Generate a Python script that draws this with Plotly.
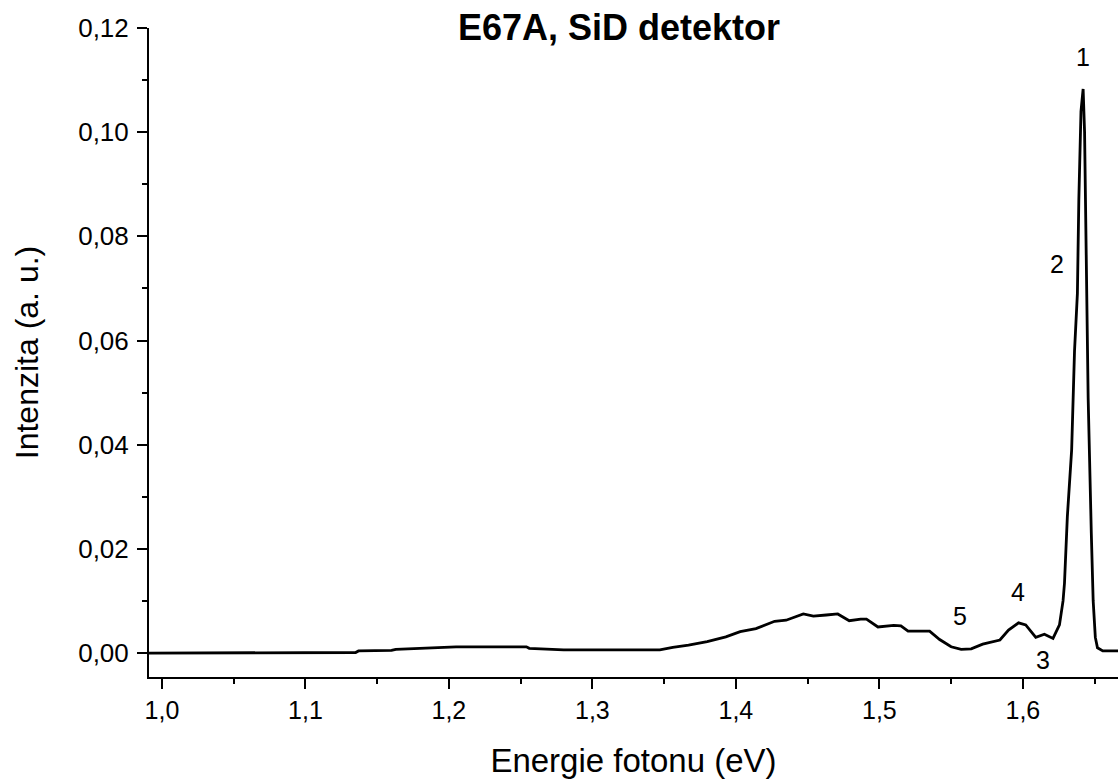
import plotly.graph_objects as go

# Spectrum
energy_ev = [0.991, 1.100, 1.135, 1.137, 1.160, 1.163, 1.183, 1.205, 1.254, 1.256,
             1.280, 1.347, 1.356, 1.367, 1.380, 1.393, 1.403, 1.414, 1.427, 1.435,
             1.447, 1.454, 1.463, 1.471, 1.479, 1.487, 1.491, 1.499, 1.510, 1.515,
             1.520, 1.535, 1.542, 1.550, 1.557, 1.564, 1.572, 1.584, 1.590, 1.597,
             1.602, 1.609, 1.615, 1.621, 1.6255, 1.628, 1.629, 1.631, 1.634, 1.636,
             1.638, 1.639, 1.6405, 1.642, 1.643, 1.644, 1.6455, 1.6477, 1.6490,
             1.6505, 1.652, 1.6557, 1.667]
intensity = [0.0, 0.0, 0.0001, 0.0004, 0.0005, 0.0007, 0.0009, 0.0012, 0.0012, 0.0009,
             0.0006, 0.0006, 0.0011, 0.0015, 0.0022, 0.0031, 0.0041, 0.0047, 0.0061, 0.0063,
             0.0075, 0.0071, 0.0073, 0.0075, 0.0062, 0.0065, 0.0065, 0.0050, 0.0053, 0.0052,
             0.0042, 0.0042, 0.0026, 0.0012, 0.0007, 0.0008, 0.0017, 0.0025, 0.0044, 0.0058,
             0.0054, 0.0030, 0.0036, 0.0028, 0.0054, 0.0100, 0.0134, 0.0262, 0.0390, 0.0580,
             0.0690, 0.0870, 0.1040, 0.1083, 0.1000, 0.0750, 0.0490, 0.0230, 0.0100,
             0.0030, 0.0010, 0.0004, 0.0004]

# Peak labels
label_text = ["1", "2", "3", "4", "5"]
label_x = [1.6418, 1.6237, 1.6141, 1.5967, 1.5560]
label_y = [0.1144, 0.0746, -0.0013, 0.0118, 0.0071]

x_range = [0.991, 1.6663]
y_range = [-0.0046, 0.12]

FONT = "Liberation Sans, Arial, sans-serif"

fig = go.Figure()
fig.add_trace(go.Scatter(x=energy_ev, y=intensity, mode="lines",
                         line=dict(color="black", width=2.8),
                         showlegend=False, hoverinfo="skip"))

for t, x, y in zip(label_text, label_x, label_y):
    fig.add_annotation(x=x, y=y, text=t, showarrow=False,
                       font=dict(family=FONT, size=25, color="black"),
                       xanchor="center", yanchor="middle")

axis_common = dict(showline=True, linecolor="black", linewidth=2,
                   ticks="outside", ticklen=10, tickwidth=2, tickcolor="black",
                   showgrid=False, zeroline=False)

fig.update_layout(
    width=1118, height=780,
    margin=dict(l=149, r=0, t=28, b=103, pad=0),
    paper_bgcolor="white", plot_bgcolor="white",
    separators=", ",
    title=dict(text="<b>E67A, SiD detektor</b>",
               font=dict(family=FONT, size=36, color="black"),
               x=0.485, xref="paper", xanchor="center",
               y=1 - 27 / 780, yref="container", yanchor="middle"),
    xaxis=dict(range=x_range, dtick=0.1, tick0=1.0, tickformat=".1f",
               tickfont=dict(family=FONT, size=25, color="black"),
               minor=dict(ticks="outside", ticklen=5, tickwidth=2, tickcolor="black", dtick=0.05, tick0=1.0),
               title=dict(text="Energie fotonu (eV)", standoff=26,
                          font=dict(family=FONT, size=33, color="black")),
               **axis_common),
    yaxis=dict(range=y_range, dtick=0.02, tick0=0, tickformat=".2f",
               tickfont=dict(family=FONT, size=26, color="black"),
               ticklabelstandoff=3,
               minor=dict(ticks="outside", ticklen=5, tickwidth=2, tickcolor="black", dtick=0.01, tick0=0),
               title=dict(text="Intenzita (a. u.)", standoff=30,
                          font=dict(family=FONT, size=32, color="black")),
               **axis_common),
)

fig.write_html("out.html")
